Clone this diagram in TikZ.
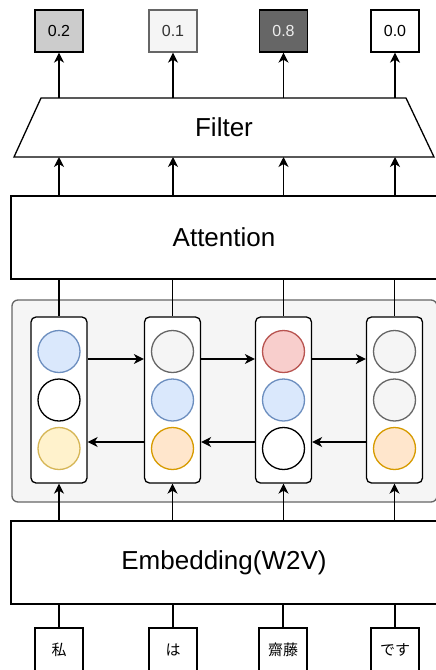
\documentclass[tikz,border=0pt]{standalone}
\usepackage{fontspec}
\setmainfont{Liberation Sans}
\newfontfamily\jpfont{Noto Sans CJK JP}
\usetikzlibrary{arrows.meta}
\definecolor{blueF}{HTML}{DAE8FC}\definecolor{blueS}{HTML}{6C8EBF}
\definecolor{yelF}{HTML}{FFF2CC}\definecolor{yelS}{HTML}{D6B656}
\definecolor{oraF}{HTML}{FFE6CC}\definecolor{oraS}{HTML}{D79B00}
\definecolor{redF}{HTML}{F8CECC}\definecolor{redS}{HTML}{B85450}
\definecolor{gryF}{HTML}{F5F5F5}\definecolor{gryS}{HTML}{666666}
\definecolor{txtG}{HTML}{333333}
\begin{document}
\begin{tikzpicture}[x=1pt,y=-1pt,line width=1.3pt,
  arr/.style={-{Stealth[length=10pt,width=10pt,inset=3pt]}},
  valbox/.style={draw,minimum width=48pt,minimum height=42pt,inner sep=0pt,font=\fontsize{16}{18}\selectfont},
  bigbox/.style={draw,fill=white,minimum width=426pt,minimum height=83pt,inner sep=0pt,font=\fontsize{26}{30}\selectfont},
  cellbox/.style={draw,fill=white,rounded corners=5pt,minimum width=56pt,minimum height=166pt,inner sep=0pt},
  dot/.style={circle,draw,minimum size=42pt,inner sep=0pt},
  bluedot/.style={dot,fill=blueF,draw=blueS},
  yeldot/.style={dot,fill=yelF,draw=yelS},
  oradot/.style={dot,fill=oraF,draw=oraS},
  reddot/.style={dot,fill=redF,draw=redS},
  grydot/.style={dot,fill=gryF,draw=gryS},
  whtdot/.style={dot,fill=white,draw=black},
  wordbox/.style={draw,fill=white,minimum width=48pt,minimum height=44pt,inner sep=0pt,font=\jpfont\fontsize{15}{17}\selectfont}
]
\useasboundingbox (0,0) rectangle (436,670);

% output values
\node[valbox,fill=gray!40] (v1) at (59,31) {0.2};
\node[valbox,fill=gryF,draw=gryS,text=txtG] (v2) at (173,31) {0.1};
\node[valbox,fill=gryS,text=white!93!black] (v3) at (283.5,31) {0.8};
\node[valbox,fill=white] (v4) at (395,31) {0.0};

% filter (trapezoid)
\draw[fill=white] (14,157) -- (41,98) -- (406,98) -- (434,157) -- cycle;
\coordinate (ftop) at (224,98);
\coordinate (fbot) at (224,157);
\node[font=\fontsize{26}{30}\selectfont,inner sep=0pt] (filter) at (224,127.5) {Filter};

% attention
\node[bigbox] (att) at (224,237.5) {Attention};

% LSTM group
\node[draw=gryS,fill=gryF,rounded corners=6pt,minimum width=425pt,minimum height=202pt,inner sep=0pt] (lstm) at (224.5,401) {};

\node[cellbox] (cell1) at (59,400) {};
\node[cellbox] (cell2) at (172.5,400) {};
\node[cellbox] (cell3) at (283.5,400) {};
\node[cellbox] (cell4) at (394.5,400) {};

\node[bluedot] (a1) at (59,351.5) {};
\node[whtdot]  (b1) at (59,400) {};
\node[yeldot]  (d1) at (59,448.5) {};
\node[grydot]  (a2) at (172.5,351.5) {};
\node[bluedot] (b2) at (172.5,400) {};
\node[oradot]  (d2) at (172.5,448.5) {};
\node[reddot]  (a3) at (283.5,351.5) {};
\node[bluedot] (b3) at (283.5,400) {};
\node[whtdot]  (d3) at (283.5,448.5) {};
\node[grydot]  (a4) at (394.5,351.5) {};
\node[grydot]  (b4) at (394.5,400) {};
\node[oradot]  (d4) at (394.5,448.5) {};

% embedding
\node[bigbox] (emb) at (224,562.5) {Embedding(W2V)};

% words
\node[wordbox] (w1) at (59,650) {私};
\node[wordbox] (w2) at (173,650) {は};
\node[wordbox] (w3) at (283,650) {齋藤};
\node[wordbox] (w4) at (395,650) {です};

% connectors
\foreach \i in {1,2,3,4}{
  \draw[arr] (ftop -| v\i.south) -- (v\i.south);
  \draw[arr] (att.north -| v\i.south) -- (fbot -| v\i.south);
  \draw (att.south -| cell\i.north) -- (cell\i.north);
  \draw[arr] (emb.north -| cell\i.south) -- (cell\i.south);
  \draw (w\i.north) -- (emb.south -| w\i.north);
}
\draw[arr] ([yshift=41pt]cell1.east) -- ([yshift=41pt]cell2.west);
\draw[arr] ([yshift=41pt]cell2.east) -- ([yshift=41pt]cell3.west);
\draw[arr] ([yshift=41pt]cell3.east) -- ([yshift=41pt]cell4.west);
\draw[arr] ([yshift=-42pt]cell2.west) -- ([yshift=-42pt]cell1.east);
\draw[arr] ([yshift=-42pt]cell3.west) -- ([yshift=-42pt]cell2.east);
\draw[arr] ([yshift=-42pt]cell4.west) -- ([yshift=-42pt]cell3.east);
\end{tikzpicture}
\end{document}
